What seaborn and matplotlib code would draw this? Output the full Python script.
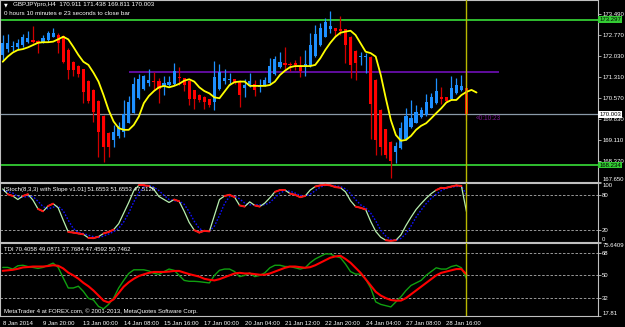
import matplotlib
matplotlib.use("Agg")
import matplotlib.pyplot as plt
import seaborn as sns
import numpy as np
import pandas as pd

# ---------------- data ----------------
opens = [172.07, 172.26, 172.35, 172.35, 172.41, 172.51, 172.59, 172.56, 172.51, 172.59,
         172.70, 172.76, 172.73, 172.24, 171.83, 171.69, 171.57, 171.17, 170.85, 170.48,
         169.94, 169.36, 169.11, 169.25, 169.40, 169.71, 170.06, 170.56, 170.87, 171.10,
         171.17, 171.16, 170.99, 171.02, 171.06, 171.31, 171.26, 171.17, 170.85, 170.67,
         170.61, 170.52, 170.44, 170.87, 171.16, 171.20, 171.22, 171.14, 170.91, 170.99,
         171.06, 170.94, 171.02, 171.08, 171.40, 171.64, 171.78, 171.75, 171.78, 171.68,
         171.66, 171.68, 172.03, 172.41, 172.70, 172.96, 173.00, 172.96, 172.96, 172.70,
         172.22, 171.99, 171.99, 172.01, 171.20, 170.15, 169.48, 169.05, 168.70, 168.82,
         169.13, 169.55, 169.71, 169.90, 169.98, 170.23, 170.39, 170.61, 170.59, 170.52,
         170.73, 170.85, 170.911]
highs = [172.76, 172.80, 172.55, 172.61, 172.80, 172.91, 173.08, 172.59, 172.76, 172.91,
         173.00, 172.84, 172.76, 172.31, 171.86, 171.72, 171.58, 171.20, 170.88, 170.50,
         169.98, 169.39, 169.63, 169.75, 170.50, 170.64, 171.31, 171.40, 171.37, 171.57,
         171.49, 171.26, 171.34, 171.34, 171.78, 171.64, 171.27, 171.20, 170.85, 170.71,
         170.64, 170.53, 171.87, 171.75, 171.57, 171.43, 171.23, 171.20, 171.22, 171.45,
         171.20, 171.22, 171.31, 171.95, 172.03, 172.18, 172.33, 171.83, 171.89, 172.03,
         172.24, 172.82, 173.11, 173.17, 173.34, 173.60, 173.01, 173.42, 172.97, 172.73,
         172.24, 172.18, 172.15, 172.03, 171.23, 170.19, 169.49, 169.07, 169.05, 169.75,
         170.21, 170.50, 170.33, 170.27, 170.71, 170.73, 171.26, 170.94, 170.60, 171.34,
         171.26, 171.37, 171.438]
lows = [171.89, 172.18, 172.22, 172.24, 172.35, 172.47, 172.47, 172.15, 172.47, 172.53,
        172.68, 172.15, 171.80, 171.22, 171.34, 171.31, 170.39, 170.39, 169.75, 168.53,
        168.35, 168.53, 168.88, 169.17, 169.22, 169.69, 170.04, 170.52, 170.85, 170.99,
        170.85, 170.41, 170.67, 170.99, 171.02, 171.02, 170.82, 170.33, 170.18, 170.44,
        170.18, 170.25, 170.15, 170.85, 171.06, 171.02, 171.06, 170.27, 170.59, 170.94,
        170.64, 170.79, 170.99, 171.06, 171.37, 171.60, 171.57, 171.52, 171.54, 171.31,
        171.34, 171.66, 172.01, 172.38, 172.68, 172.84, 172.73, 172.76, 171.80, 171.26,
        171.20, 171.72, 171.45, 169.13, 168.59, 168.59, 168.47, 167.78, 168.32, 168.78,
        169.11, 169.52, 169.69, 169.86, 169.94, 170.21, 170.36, 170.36, 170.44, 170.50,
        170.71, 170.82, 169.811]
closes = [172.47, 172.47, 172.38, 172.47, 172.68, 172.66, 172.51, 172.47, 172.65, 172.82,
          172.84, 172.47, 171.83, 171.54, 171.54, 171.39, 170.79, 170.47, 170.09, 169.40,
          168.88, 168.88, 169.40, 169.60, 170.01, 170.44, 171.06, 171.22, 171.34, 171.20,
          171.14, 170.87, 171.10, 171.14, 171.51, 171.27, 171.02, 170.52, 170.52, 170.50,
          170.44, 170.33, 171.31, 171.49, 171.26, 171.22, 171.10, 170.67, 171.02, 171.17,
          170.85, 171.02, 171.20, 171.68, 171.92, 171.83, 171.72, 171.73, 171.72, 171.52,
          171.75, 172.41, 172.80, 173.00, 173.22, 173.08, 172.91, 172.91, 172.41, 171.72,
          171.78, 172.01, 172.01, 170.36, 169.11, 168.85, 168.59, 168.39, 168.90, 169.52,
          169.94, 169.86, 170.07, 170.15, 170.44, 170.59, 170.81, 170.52, 170.48, 170.91,
          171.02, 170.99, 170.003]
ma_line = [171.83, 172.01, 172.15, 172.24, 172.27, 172.33, 172.41, 172.49, 172.51, 172.51,
           172.53, 172.61, 172.70, 172.61, 172.35, 172.07, 171.83, 171.72, 171.45, 171.14,
           170.67, 170.15, 169.75, 169.52, 169.46, 169.46, 169.63, 169.92, 170.39, 170.64,
           170.81, 170.94, 170.99, 170.94, 170.99, 171.06, 171.17, 171.22, 171.14, 170.94,
           170.81, 170.73, 170.59, 170.56, 170.79, 171.02, 171.12, 171.14, 171.14, 170.99,
           170.99, 170.99, 170.99, 171.02, 171.14, 171.37, 171.52, 171.64, 171.68, 171.68,
           171.68, 171.68, 171.72, 171.95, 172.24, 172.49, 172.70, 172.84, 172.88, 172.91,
           172.76, 172.47, 172.18, 172.13, 172.01, 171.37, 170.56, 169.80, 169.28, 169.08,
           169.11, 169.25, 169.46, 169.60, 169.69, 169.86, 170.04, 170.21, 170.41, 170.50,
           170.50, 170.67, 170.78, 170.85, 170.76]
stoch_k = [90, 81, 78, 72, 78, 81, 71, 56, 52, 61, 65, 58, 37, 17, 16, 14.5, 13, 7, 6.5, 9,
           14.5, 17, 21, 31, 49, 67, 87, 96, 96, 95, 89, 77, 72, 67, 72, 69, 52, 33, 20, 16,
           19, 18, 45, 72, 78, 80, 76, 62, 60, 68, 62, 60, 66, 75, 85, 88, 88, 82, 80, 76,
           78, 88, 94, 96, 97, 96, 93, 92, 85, 70, 60, 58, 55, 35, 18, 8, 3, 2, 3, 12,
           28, 42, 55, 65, 74, 82, 88, 92, 92, 94, 96, 95, 51.66]
stoch_d = [88, 85, 83, 77, 76, 77, 77, 69, 60, 56, 59, 61, 53, 37, 23, 16, 14.5, 11.5, 9, 7.5,
           10, 13.5, 17.5, 23, 34, 49, 68, 83, 93, 96, 93, 87, 79, 72, 70, 69, 64, 51, 35, 23,
           18, 18, 27, 45, 65, 77, 78, 73, 66, 63, 63, 63, 63, 67, 75, 83, 87, 86, 83, 79,
           78, 81, 87, 93, 96, 96, 95, 94, 90, 82, 72, 63, 58, 49, 36, 20, 10, 4, 3, 6,
           14, 27, 42, 54, 65, 74, 81, 87, 91, 93, 94, 95, 80]
tdi_green = [56.3, 56.3, 55, 57.6, 58, 57, 56.3, 55.5, 56.3, 58, 59.7, 56.3, 48, 40, 40,
             41.4, 37.3, 31.8, 30.5, 25.4, 23.5, 27, 32, 40, 46, 51.5, 54.4, 54.4, 54.4, 53.5,
             51.6, 50.8, 53, 55, 54, 50, 46, 45.3, 45.3, 45, 44.5, 44,
             50, 54, 55, 55, 53, 49, 50, 52, 49, 50, 52, 56, 58, 58, 57, 57, 56, 55, 56, 60,
             63, 65, 67, 67, 65, 64, 59, 53, 51, 51, 47, 40, 29, 27, 26, 25, 29, 33, 38, 42,
             44, 46, 50, 53, 56, 55, 55, 57, 58, 56, 47.46]
tdi_red = [53.6, 54, 54.4, 55.2, 56.3, 56.6, 57, 57, 57, 57.4, 58, 57.6, 55.5, 52.2, 50,
           47.4, 44.1, 41.4, 38, 34, 30, 28.5, 31, 36, 41, 44.5, 47.3, 49.5, 50.8, 52,
           52.7, 52.7, 52.7, 53, 53.5, 53.5, 52.2, 51, 50, 49, 47.3, 46.5,
           46, 47, 48.5, 50, 51.5, 52, 51.5, 51.5, 51, 50.5, 50.5, 51.5, 53, 54.5, 56, 57,
           57, 56.5, 56, 56.5, 58, 60, 62, 64, 65, 65.5, 63, 60, 56, 52, 47, 42, 37, 34,
           32, 30.5, 30, 30, 32, 35, 38, 41, 44, 47, 50, 52, 53, 54, 55, 55, 50.75]

time_labels = ["8 Jan 2014", "9 Jan 20:00", "13 Jan 00:00", "14 Jan 08:00", "15 Jan 16:00",
               "17 Jan 00:00", "20 Jan 04:00", "21 Jan 12:00", "22 Jan 20:00", "24 Jan 04:00",
               "27 Jan 08:00", "28 Jan 16:00"]
time_label_bars = [0, 8, 16, 24, 32, 40, 48, 56, 64, 72, 80, 88]
price_ticks = [173.490, 172.770, 172.030, 171.310, 170.570, 169.830, 169.110, 168.370, 167.650]
resist_level = 173.297
support_level = 168.234
purple_level = 171.46
purple_start_bar = 25
last_price = 170.003
stoch_levels = [80, 20]
tdi_levels = [68, 50, 32]
tdi_range = (17.81, 75.6409)

header = "GBPJPYpro,H4  170.911 171.438 169.811 170.003"
timer_text = "0 hours 10 minutes e 23 seconds to close bar"
stoch_title = "[Stoch(8,3,3) with Slope v1.01] 51.6553 51.6553 47.5126"
tdi_title = "TDI 70.4058 49.0871 27.7684 47.4592 50.7462"
copyright_text = "MetaTrader 4 at FOREX.com, \u00a9 2001-2013, MetaQuotes Software Corp."
countdown = "\u00ab0:10:23"

# ---------------- style ----------------
sns.set_style("dark", {"axes.facecolor": "black", "figure.facecolor": "black",
                       "axes.edgecolor": "#c0c0c0", "grid.color": "black"})
plt.rcParams["font.family"] = ["Liberation Sans", "DejaVu Sans"]

W, H = 625, 327
fig = plt.figure(figsize=(W / 100, H / 100), dpi=100, facecolor="black")


def rect(x0, y0, x1, y1):
    return [x0 / W, 1 - y1 / H, (x1 - x0) / W, (y1 - y0) / H]


ax1 = fig.add_axes(rect(0, 0, 598, 182))
ax2 = fig.add_axes(rect(0, 183, 598, 242))
ax3 = fig.add_axes(rect(0, 243, 598, 316))

n = len(closes)
idx = np.arange(n)
xlim = (-0.54, 118.1)
FS = 4.3
GREY = "#c0c0c0"

df = pd.DataFrame({"bar": idx, "open": opens, "high": highs, "low": lows, "close": closes,
                   "k": stoch_k, "d": stoch_d, "g": tdi_green, "r": tdi_red})
df["bull"] = df["close"] >= df["open"]

for ax in (ax1, ax2, ax3):
    ax.set_facecolor("black")
    ax.set_xlim(*xlim)
    ax.grid(False)
    for s in ax.spines.values():
        s.set_color(GREY)
        s.set_linewidth(0.8)
    ax.yaxis.tick_right()
    ax.tick_params(axis="y", colors=GREY, labelcolor="white", labelsize=FS,
                   length=2.0, width=0.6, pad=1.0, direction="out")

# ---------------- main price panel ----------------
ax1.set_ylim(167.645, 173.979)
ax1.axhline(resist_level, color="#33cc33", lw=1.3, zorder=1)
ax1.axhline(support_level, color="#33cc33", lw=1.3, zorder=1)
ax1.axhline(last_price, color="#8a9aa8", lw=0.9, zorder=1)
ax1.hlines(purple_level, purple_start_bar, 98.5, color="#7a10c8", lw=1.1, zorder=1)

col_body = np.where(df["bull"], "#1e90ff", "#ff0000")
col_wick = np.where(df["bull"], "#1e90ff", "#d00000")
ax1.vlines(df["bar"], df["low"], df["high"], colors=col_wick, lw=0.9, zorder=2)
body_bottom = np.minimum(df["open"], df["close"])
body_height = np.maximum(np.abs(df["close"] - df["open"]), 0.03)
ax1.bar(df["bar"], body_height, bottom=body_bottom, width=0.62, color=col_body,
        linewidth=0, zorder=3)

ma_df = pd.DataFrame({"bar": np.arange(len(ma_line)), "ma": ma_line})
sns.lineplot(data=ma_df, x="bar", y="ma", ax=ax1, color="#ffff00", lw=1.3, zorder=4)

ax1.set_yticks(price_ticks)
ax1.set_yticklabels([f"{v:.3f}" for v in price_ticks])
ax1.get_yticklabels()[-1].set_va("bottom")
ax1.set_xticks([])
ax1.set_xlabel("")
ax1.set_ylabel("")

for lvl, fc, tc in [(resist_level, "#33cc33", "black"), (support_level, "#33cc33", "black"),
                    (last_price, "white", "black")]:
    ax1.annotate(f"{lvl:.3f}", xy=(1.0, lvl), xycoords=("axes fraction", "data"),
                 xytext=(1.0, 0), textcoords="offset points", va="center", ha="left",
                 fontsize=FS, color=tc, zorder=6, annotation_clip=False,
                 bbox=dict(boxstyle="square,pad=0.15", fc=fc, ec="none"))

ax1.text(92.6 + 1.2, 169.87, countdown, color="#7a1a90", fontsize=FS + 0.4, va="center",
         ha="left", zorder=5)
ax1.text(0.006, 0.985, "\u25bc", transform=ax1.transAxes, color="white", fontsize=3.5,
         va="top", ha="left", family=["DejaVu Sans"])
ax1.text(0.022, 0.99, header, transform=ax1.transAxes, color="white", fontsize=FS + 0.2,
         va="top", ha="left")
ax1.text(0.006, 0.94, timer_text, transform=ax1.transAxes, color="white",
         fontsize=FS + 0.2, va="top", ha="left")

# ---------------- stochastic panel ----------------
ax2.set_ylim(0, 100)
for lv in stoch_levels:
    ax2.axhline(lv, color="#b0b0b0", lw=0.6, ls=(0, (3, 2)), zorder=1)
sns.lineplot(data=df, x="bar", y="d", ax=ax2, color="#1010ff", lw=1.0,
             linestyle=(0, (1.2, 1.2)), zorder=2)
sns.lineplot(data=df, x="bar", y="k", ax=ax2, color="#b8f0b0", lw=0.9, zorder=3)
slope = np.abs(np.diff(df["k"].to_numpy()))
for i, sv in enumerate(slope):
    if sv <= 4.5:
        seg = df.iloc[i:i + 2]
        sns.lineplot(data=seg, x="bar", y="k", ax=ax2, color="#ff1010", lw=1.4, zorder=4)
ax2.set_yticks([0, 20, 80, 100])
ax2.set_yticklabels(["0", "20", "80", "100"])
tl = ax2.get_yticklabels()
tl[0].set_va("bottom")
tl[3].set_va("top")
ax2.set_xticks([])
ax2.set_xlabel("")
ax2.set_ylabel("")
ax2.text(0.006, 0.93, stoch_title, transform=ax2.transAxes, color="white", fontsize=FS,
         va="top", ha="left", zorder=6)

# ---------------- TDI panel ----------------
ax3.set_ylim(*tdi_range)
for lv in tdi_levels:
    ax3.axhline(lv, color="#b0b0b0", lw=0.6, ls=(0, (3, 2)), zorder=1)
sns.lineplot(data=df, x="bar", y="g", ax=ax3, color="#10a010", lw=1.0, zorder=2)
sns.lineplot(data=df, x="bar", y="r", ax=ax3, color="#ff0000", lw=1.5, zorder=3)
tdi_ticks = [tdi_range[0], 32, 50, 68, tdi_range[1]]
ax3.set_yticks(tdi_ticks)
ax3.set_yticklabels(["17.81", "32", "50", "68", "75.6409"])
tl = ax3.get_yticklabels()
tl[0].set_va("bottom")
tl[4].set_va("top")
ax3.set_xticks(time_label_bars)
ax3.set_xticklabels(time_labels, ha="left")
ax3.tick_params(axis="x", colors=GREY, labelcolor="white", labelsize=FS, length=3,
                width=0.6, pad=0.8, direction="out")
ax3.set_xlabel("")
ax3.set_ylabel("")
ax3.text(0.006, 0.95, tdi_title, transform=ax3.transAxes, color="white", fontsize=FS,
         va="top", ha="left", zorder=6)
ax3.text(0.006, 0.03, copyright_text, transform=ax3.transAxes, color="white",
         fontsize=FS, va="bottom", ha="left", zorder=6)

# vertical marker through all panels at the last bar
for ax in (ax1, ax2, ax3):
    ax.axvline(n - 1, color="#b8b800", lw=1.0, zorder=5)
    if ax.get_legend() is not None:
        ax.get_legend().remove()

fig.savefig("out.png", dpi=100, facecolor="black")
